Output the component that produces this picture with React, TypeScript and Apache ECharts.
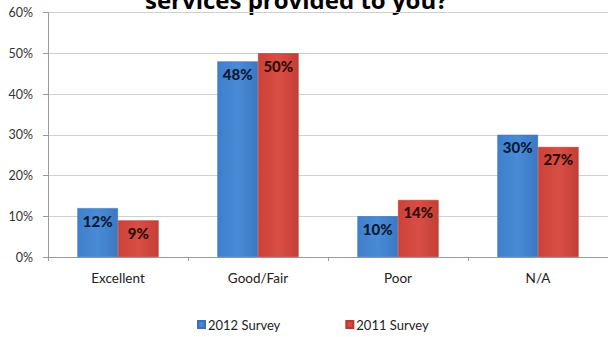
import React, { useEffect, useRef } from "react";
import * as echarts from "echarts";

const categories = ["Excellent", "Good/Fair", "Poor", "N/A"];
const survey2012 = [12, 48, 10, 30];
const survey2011 = [9, 50, 14, 27];
const seriesNames = ["2012 Survey", "2011 Survey"];
const titleText = "services provided to you?";

const FONT = "Lato, 'Open Sans', sans-serif";

export default function App() {
  const ref = useRef<HTMLDivElement>(null);
  useEffect(() => {
    if (!ref.current) return;
    const chart = echarts.init(ref.current, null, { renderer: "svg" });
    const label = (color: string) => ({
      show: true,
      position: "insideTop",
      distance: 5,
      formatter: (p: any) => `${p.value}%`,
      fontFamily: FONT,
      fontWeight: 900,
      fontSize: 15,
      color,
    });
    chart.setOption({
      animation: false,
      backgroundColor: "#ffffff",
      textStyle: { fontFamily: FONT },
      grid: { left: 48, right: 0, top: 12.5, bottom: 80, containLabel: false },
      graphic: [
        {
          type: "text",
          x: 145,
          y: 11,
          style: {
            text: titleText,
            fontFamily: "'Open Sans', sans-serif",
            fontWeight: "bold",
            fontSize: 24,
            fill: "#000000",
            verticalAlign: "bottom",
            align: "left",
          },
        },
      ],
      legend: {
        bottom: 1,
        left: 192,
        itemWidth: 7,
        itemHeight: 7,
        itemGap: 65,
        icon: "rect",
        textStyle: { fontFamily: FONT, fontSize: 13, color: "#222", padding: [0, 0, 0, -2] },
        data: seriesNames,
      },
      xAxis: {
        type: "category",
        data: categories,
        axisLine: { lineStyle: { color: "#9a9a9a" } },
        axisTick: { show: true, length: 4, lineStyle: { color: "#9a9a9a" } },
        axisLabel: { fontFamily: FONT, fontSize: 13.5, color: "#222", margin: 14 },
      },
      yAxis: {
        type: "value",
        min: 0,
        max: 60,
        interval: 10,
        axisLine: { show: true, lineStyle: { color: "#9a9a9a" } },
        axisTick: { show: true, length: 5, lineStyle: { color: "#9a9a9a" } },
        axisLabel: {
          formatter: "{value}%",
          fontFamily: FONT,
          fontSize: 12.5,
          color: "#333",
          margin: 15,
        },
        splitLine: { lineStyle: { color: "#d0d0d0" } },
      },
      series: [
        {
          name: seriesNames[0],
          type: "bar",
          data: survey2012,
          barGap: "0%",
          barCategoryGap: "42%",
          itemStyle: {
            color: new echarts.graphic.LinearGradient(0, 0, 1, 0, [
              { offset: 0, color: "#3f7fcc" },
              { offset: 0.5, color: "#4a8bd6" },
              { offset: 1, color: "#3b78c2" },
            ]),
            borderColor: "#3a70b5",
            borderWidth: 0.6,
          },
          label: label("#0b1a36"),
        },
        {
          name: seriesNames[1],
          type: "bar",
          data: survey2011,
          itemStyle: {
            color: new echarts.graphic.LinearGradient(0, 0, 1, 0, [
              { offset: 0, color: "#cc4239" },
              { offset: 0.5, color: "#d84e45" },
              { offset: 1, color: "#c43f37" },
            ]),
            borderColor: "#b63a32",
            borderWidth: 0.6,
          },
          label: label("#330a06"),
        },
      ],
    });
    return () => chart.dispose();
  }, []);
  return <div ref={ref} style={{ width: 608, height: 337, position: "absolute", left: 0, top: 0 }} />;
}
